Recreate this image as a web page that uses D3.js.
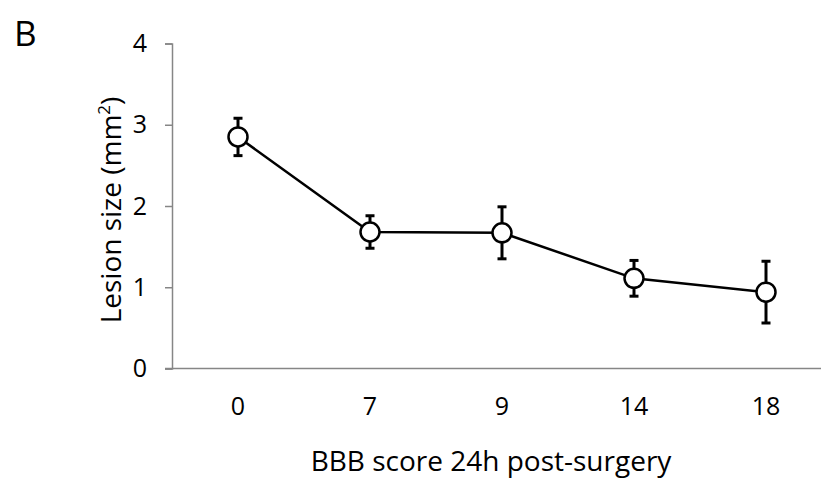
<!DOCTYPE html>
<html>
<head>
<meta charset="utf-8">
<script src="https://cdn.jsdelivr.net/npm/d3@7"></script>
<style>
  body { margin: 0; background: #fff; }
  text { font-family: "Open Sans", "Noto Sans", sans-serif; fill: #000; }
</style>
</head>
<body>
<div id="chart"></div>
<script>
const scores = ['0', '7', '9', '14', '18'];
const lesion = [2.85, 1.68, 1.67, 1.11, 0.94];
const errors = [0.23, 0.20, 0.32, 0.22, 0.38];
const yTicks = [0, 1, 2, 3, 4];

const width = 821;
const height = 481;
const axisColor = '#868686';

const svg = d3.select('#chart').append('svg')
  .attr('width', width)
  .attr('height', height);

const x = d3.scaleBand()
  .domain(scores)
  .range([172, 832]);

const y = d3.scaleLinear()
  .domain([0, 4])
  .range([368.5, 43.5]);

const data = scores.map((s, i) => ({ s, v: lesion[i], e: errors[i] }));
const cx = d => x(d.s) + x.bandwidth() / 2;

// y axis
const yAxis = svg.append('g')
  .attr('transform', 'translate(172,0)')
  .call(d3.axisLeft(y).tickValues(yTicks).tickSize(7).tickPadding(18).tickFormat(d3.format('d')));
yAxis.select('.domain').attr('stroke', axisColor).attr('stroke-width', 1.5);
yAxis.selectAll('.tick line').attr('stroke', axisColor).attr('stroke-width', 1.5);
yAxis.selectAll('.tick text').style('font-size', '25px');

// x axis
const xAxis = svg.append('g')
  .attr('transform', `translate(0,${y(0)})`)
  .call(d3.axisBottom(x).tickSize(0).tickPadding(29));
xAxis.select('.domain').attr('d', `M165,0H${width}`).attr('stroke', axisColor).attr('stroke-width', 1.5);
xAxis.selectAll('.tick text').style('font-size', '25px');

// line
svg.append('path')
  .datum(data)
  .attr('fill', 'none')
  .attr('stroke', '#000')
  .attr('stroke-width', 2.5)
  .attr('d', d3.line().x(cx).y(d => y(d.v)));

// error bars
const eb = svg.append('g').attr('stroke', '#000').attr('stroke-width', 3);
eb.selectAll('line.bar')
  .data(data)
  .join('line')
  .attr('class', 'bar')
  .attr('x1', cx).attr('x2', cx)
  .attr('y1', d => y(d.v + d.e)).attr('y2', d => y(d.v - d.e));
eb.selectAll('line.capTop')
  .data(data)
  .join('line')
  .attr('class', 'capTop')
  .attr('x1', d => cx(d) - 4.5).attr('x2', d => cx(d) + 4.5)
  .attr('y1', d => y(d.v + d.e)).attr('y2', d => y(d.v + d.e));
eb.selectAll('line.capBot')
  .data(data)
  .join('line')
  .attr('class', 'capBot')
  .attr('x1', d => cx(d) - 4.5).attr('x2', d => cx(d) + 4.5)
  .attr('y1', d => y(d.v - d.e)).attr('y2', d => y(d.v - d.e));

// points
svg.selectAll('circle')
  .data(data)
  .join('circle')
  .attr('cx', cx)
  .attr('cy', d => y(d.v))
  .attr('r', 9.5)
  .attr('fill', '#fff')
  .attr('stroke', '#000')
  .attr('stroke-width', 2.5);

// titles
svg.append('text')
  .attr('x', 491)
  .attr('y', 471)
  .attr('text-anchor', 'middle')
  .style('font-size', '28px')
  .text('BBB score 24h post-surgery');

const yt = svg.append('text')
  .attr('transform', 'translate(121,210) rotate(-90)')
  .attr('text-anchor', 'middle')
  .style('font-size', '28px');
yt.append('tspan').text('Lesion size (mm');
yt.append('tspan').attr('dy', -11).style('font-size', '17px').text('2');
yt.append('tspan').attr('dy', 11).text(')');

svg.append('text')
  .attr('x', 14)
  .attr('y', 46)
  .style('font-size', '35px')
  .text('B');
</script>
</body>
</html>
